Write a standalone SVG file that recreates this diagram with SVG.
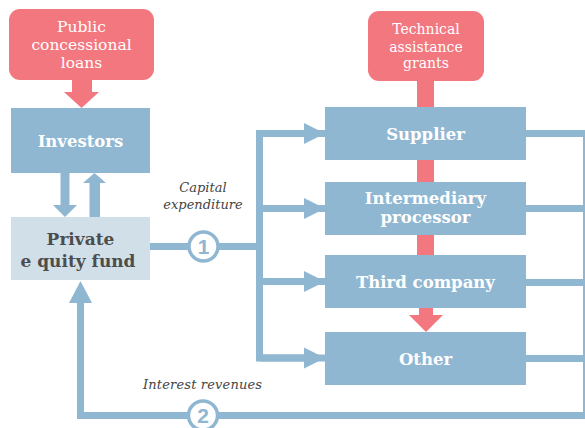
<svg xmlns="http://www.w3.org/2000/svg" width="585" height="428" viewBox="0 0 585 428">
<style>
.pink{fill:#F3777F}
.blue{fill:#8FB7D2}
.lt{fill:#D0DFE8}
.ln{fill:none;stroke:#8FB7D2;stroke-width:7;stroke-linejoin:miter}
.wt{font-family:"DejaVu Serif","Liberation Serif",serif;fill:#fff;text-anchor:middle}
.b{font-weight:bold;font-size:16.5px}
.r{font-size:15.5px}
.s{font-size:14px}
.dk{font-family:"DejaVu Serif","Liberation Serif",serif;fill:#4D4D4D;font-weight:bold;font-size:17px;text-anchor:middle}
.it{font-family:"DejaVu Serif","Liberation Serif",serif;font-style:italic;fill:#444;font-size:13px}
.num{font-family:"Liberation Sans","DejaVu Sans",sans-serif;font-weight:bold;font-size:21px;fill:#8FB7D2;text-anchor:middle}
.circ{fill:#fff;stroke:#8FB7D2;stroke-width:3.5}
</style>
<defs>
<marker id="ah" markerUnits="userSpaceOnUse" markerWidth="22" markerHeight="22" refX="21" refY="11" orient="auto" viewBox="0 0 22 22">
<path d="M0,0.5 L21,11 L0,21.5 Z" fill="#8FB7D2"/>
</marker>
</defs>
<g id="connectors">
<rect x="417" y="80" width="17" height="177" class="pink"/>
<path class="pink" d="M72,79 H92 V92 H99 L81.5,108 L64,92 H72 Z"/>
<path class="pink" d="M419,307 H433 V315 H443 L426,332 L409,315 H419 Z"/>
<path class="blue" d="M60.5,173 H69.5 V205 H77 L65,217 L53,205 H60.5 Z"/>
<path class="blue" d="M89.5,217 H100 V183 H106 L94.5,173 L83,183 H89.5 Z"/>
<path class="ln" d="M150,246.5 H259.5"/>
<path class="ln" d="M304,133.5 H259.5 V358 H304"/>
<path class="ln" d="M259.5,133.5 H325" marker-end="url(#ah)"/>
<path class="ln" d="M259.5,208.5 H325" marker-end="url(#ah)"/>
<path class="ln" d="M259.5,281.5 H325" marker-end="url(#ah)"/>
<path class="ln" d="M259.5,358 H325" marker-end="url(#ah)"/>
<path class="ln" d="M526,133.5 H586.5 V415.5 H80.5 V295"/>
<path class="ln" d="M526,208.5 H586"/>
<path class="ln" d="M526,282.5 H586"/>
<path class="ln" d="M526,358.5 H586"/>
<path class="blue" d="M80.5,281 L92,303 L69,303 Z"/>
<g id="c1"><circle cx="203.5" cy="246.5" r="14.5" class="circ"/><text x="203.5" y="254" class="num">1</text></g>
<g id="c2"><circle cx="203" cy="415.5" r="14.5" class="circ"/><text x="203" y="423" class="num">2</text></g>
<text class="it" x="203" y="192" text-anchor="middle">Capital</text>
<text class="it" x="203" y="209" text-anchor="middle">expenditure</text>
<text class="it" x="143" y="389" textLength="119">Interest revenues</text>
</g>
<g id="loans">
<rect x="9" y="9" width="145" height="71" rx="11" class="pink"/>
<text class="wt r" x="81.5" y="32">Public</text>
<text class="wt r" x="81.5" y="50">concessional</text>
<text class="wt r" x="81.5" y="68">loans</text>
</g>
<g id="grants">
<rect x="368" y="11" width="116" height="70" rx="11" class="pink"/>
<text class="wt s" x="426" y="34">Technical</text>
<text class="wt s" x="426" y="51.5">assistance</text>
<text class="wt s" x="426" y="68">grants</text>
</g>
<g id="investors">
<rect x="11" y="108" width="139" height="65" class="blue"/>
<text class="wt b" x="80.5" y="147">Investors</text>
</g>
<g id="fund">
<rect x="11" y="217" width="139" height="63" class="lt"/>
<text class="dk" x="80.5" y="245">Private</text>
<text class="dk" x="78" y="267">e quity fund</text>
</g>
<g id="supplier">
<rect x="325" y="107" width="201" height="53" class="blue"/>
<text class="wt b" x="425.5" y="140">Supplier</text>
</g>
<g id="intermediary">
<rect x="325" y="182" width="201" height="53" class="blue"/>
<text class="wt b" x="425.5" y="204">Intermediary</text>
<text class="wt b" x="425.5" y="223">processor</text>
</g>
<g id="third">
<rect x="325" y="255" width="201" height="53" class="blue"/>
<text class="wt b" x="425.5" y="288">Third company</text>
</g>
<g id="other">
<rect x="325" y="332" width="201" height="53" class="blue"/>
<text class="wt b" x="425.5" y="365">Other</text>
</g>
</svg>
